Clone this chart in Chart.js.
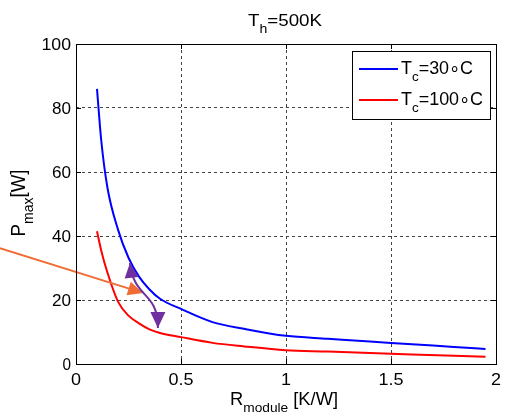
<!DOCTYPE html>
<html>
<head>
<meta charset="utf-8">
<script src="https://cdn.jsdelivr.net/npm/chart.js@4/dist/chart.umd.min.js"></script>
<style>
html, body { margin: 0; padding: 0; background: #fff; }
canvas { display: block; }
</style>
</head>
<body>
<canvas id="pChart" width="510" height="417"></canvas>
<script>
/* R_module [K/W] and Pmax [W] for the two cold side temperatures */
const rModule = [0.1, 0.12, 0.15, 0.2, 0.25, 0.3, 0.35, 0.4, 0.5, 0.65, 0.8, 1.0, 1.2, 1.4, 1.6, 1.8, 1.95];
const pTc30  = [86, 70, 55, 42, 33.2, 27.3, 23.3, 20.4, 17.2, 13.1, 11, 8.8, 7.9, 7.0, 6.2, 5.3, 4.7];
const pTc100 = [41.5, 35.5, 28.5, 19.5, 15.1, 12.7, 10.8, 9.7, 8.4, 6.6, 5.5, 4.3, 3.9, 3.4, 3.0, 2.6, 2.3];
const xTicks = [0, 0.5, 1, 1.5, 2];
const yTicks = [0, 20, 40, 60, 80, 100];

/* annotation arrows, in data units [R, P] */
const orangeArrow = [[-0.362, 36.2], [0.319, 22.2]];
const purpleArrow = [[0.257, 31.6], [0.276, 20.0], [0.39, 23.1], [0.39, 11.25]];

const FONT = '"Liberation Sans", Arial, sans-serif';

// text with subscripts, parts = [[text, isSub], ...]; width = target width (horizontal stretch)
function richWidth(ctx, parts, size) {
  let w = 0;
  parts.forEach(p => {
    ctx.font = (p[1] ? size * 0.75 : size) + 'px ' + FONT;
    w += ctx.measureText(p[0]).width;
  });
  return w;
}
function drawRich(ctx, parts, size, align, width) {
  const nat = richWidth(ctx, parts, size);
  const sx = width ? width / nat : 1;
  ctx.save();
  ctx.scale(sx, 1);
  let cx = align === 'center' ? -nat / 2 : align === 'right' ? -nat : 0;
  ctx.textAlign = 'left';
  ctx.textBaseline = 'alphabetic';
  ctx.fillStyle = '#000';
  parts.forEach(p => {
    ctx.font = (p[1] ? size * 0.75 : size) + 'px ' + FONT;
    ctx.fillText(p[0], cx, p[1] ? size * 0.4 : 0);
    cx += ctx.measureText(p[0]).width;
  });
  ctx.restore();
}

function arrowHead(ctx, tip, from, len, half) {
  const dx = tip.x - from.x, dy = tip.y - from.y;
  const d = Math.hypot(dx, dy), ux = dx / d, uy = dy / d;
  const bx = tip.x - ux * len, by = tip.y - uy * len;
  ctx.beginPath();
  ctx.moveTo(tip.x, tip.y);
  ctx.lineTo(bx - uy * half, by + ux * half);
  ctx.lineTo(bx + uy * half, by - ux * half);
  ctx.closePath();
  ctx.fill();
}

const decorations = {
  id: 'decorations',
  afterDatasetsDraw(chart) {
    const ctx = chart.ctx, xs = chart.scales.x, ys = chart.scales.y;
    const pt = p => ({ x: xs.getPixelForValue(p[0]), y: ys.getPixelForValue(p[1]) });

    // orange arrow
    const o0 = pt(orangeArrow[0]), o1 = pt(orangeArrow[1]);
    const od = Math.hypot(o1.x - o0.x, o1.y - o0.y);
    ctx.save();
    ctx.strokeStyle = ctx.fillStyle = '#ef6c35';
    ctx.lineWidth = 2;
    ctx.beginPath();
    ctx.moveTo(o0.x, o0.y);
    ctx.lineTo(o1.x - (o1.x - o0.x) * 12 / od, o1.y - (o1.y - o0.y) * 12 / od);
    ctx.stroke();
    arrowHead(ctx, o1, o0, 15, 7);

    // purple curved double arrow
    const q = purpleArrow.map(pt);
    ctx.strokeStyle = ctx.fillStyle = '#7030a0';
    ctx.beginPath();
    ctx.moveTo(q[0].x, q[0].y);
    ctx.bezierCurveTo(q[1].x, q[1].y, q[2].x, q[2].y, q[3].x, q[3].y);
    ctx.stroke();
    arrowHead(ctx, q[0], q[1], 15, 7);
    arrowHead(ctx, q[3], q[2], 16, 7.5);
    ctx.restore();
  },
  afterDraw(chart) {
    const ctx = chart.ctx, a = chart.chartArea, xs = chart.scales.x, ys = chart.scales.y;
    ctx.save();
    // frame and inward ticks
    ctx.strokeStyle = '#000';
    ctx.lineWidth = 1;
    ctx.strokeRect(Math.round(a.left) + 0.5, Math.round(a.top) + 0.5,
                   Math.round(a.right - a.left), Math.round(a.bottom - a.top));
    ctx.beginPath();
    xTicks.forEach(v => {
      const x = Math.round(xs.getPixelForValue(v)) + 0.5;
      ctx.moveTo(x, a.top); ctx.lineTo(x, a.top + 5);
      ctx.moveTo(x, a.bottom); ctx.lineTo(x, a.bottom - 5);
    });
    yTicks.forEach(v => {
      const y = Math.round(ys.getPixelForValue(v)) + 0.5;
      ctx.moveTo(a.left, y); ctx.lineTo(a.left + 5, y);
      ctx.moveTo(a.right, y); ctx.lineTo(a.right - 5, y);
    });
    ctx.stroke();

    // tick labels
    yTicks.forEach(v => {
      ctx.save();
      ctx.translate(a.left - 5, ys.getPixelForValue(v) + 6);
      drawRich(ctx, [[String(v), false]], 16, 'right', String(v).length * 10.5 - 2);
      ctx.restore();
    });
    xTicks.forEach(v => {
      ctx.save();
      ctx.translate(xs.getPixelForValue(v), a.bottom + 21);
      const s = String(v);
      drawRich(ctx, [[s, false]], 16, 'center', s.length === 1 ? 10 : 25);
      ctx.restore();
    });

    // title
    ctx.save();
    ctx.translate(285, 26);
    drawRich(ctx, [['T', false], ['h', true], ['=500K', false]], 17, 'center', 74);
    ctx.restore();

    // x axis title
    ctx.save();
    ctx.translate(284, 405);
    drawRich(ctx, [['R', false], ['module', true], [' [K/W]', false]], 18, 'center', 108);
    ctx.restore();

    // y axis title (rotated)
    ctx.save();
    ctx.translate(25, 203);
    ctx.scale(1.15, 1);
    ctx.rotate(-Math.PI / 2);
    drawRich(ctx, [['P', false], ['max', true], ['[W]', false]], 18, 'center', 67);
    ctx.restore();

    // legend
    const lx = 352, ly = 51, lw = 138, lh = 68;
    ctx.fillStyle = '#fff';
    ctx.fillRect(lx, ly, lw, lh);
    ctx.strokeStyle = '#000';
    ctx.strokeRect(lx + 0.5, ly + 0.5, lw, lh);
    const rows = [
      { color: '#0000ff', y: 69, parts: [['T', false], ['c', true], ['=30\u2218C', false]], w: 72 },
      { color: '#ff0000', y: 100, parts: [['T', false], ['c', true], ['=100\u2218C', false]], w: 82 }
    ];
    rows.forEach(r => {
      ctx.strokeStyle = r.color;
      ctx.lineWidth = 2;
      ctx.beginPath(); ctx.moveTo(359, r.y); ctx.lineTo(398, r.y); ctx.stroke();
      ctx.save();
      ctx.translate(401, r.y + 4.5);
      drawRich(ctx, r.parts, 18, 'left', r.w);
      ctx.restore();
    });
    ctx.restore();
  }
};

new Chart(document.getElementById('pChart'), {
  type: 'line',
  data: {
    datasets: [{
      label: 'Tc=30°C',
      data: rModule.map((r, i) => ({ x: r, y: pTc30[i] })),
      borderColor: '#0000ff',
      borderWidth: 2,
      pointRadius: 0,
      cubicInterpolationMode: 'monotone'
    }, {
      label: 'Tc=100°C',
      data: rModule.map((r, i) => ({ x: r, y: pTc100[i] })),
      borderColor: '#ff0000',
      borderWidth: 2,
      pointRadius: 0,
      cubicInterpolationMode: 'monotone'
    }]
  },
  options: {
    responsive: false,
    animation: false,
    devicePixelRatio: 1,
    layout: { padding: { top: 44, right: 14, left: 0, bottom: 0 } },
    plugins: { legend: { display: false }, title: { display: false }, tooltip: { enabled: false } },
    scales: {
      x: {
        type: 'linear', min: 0, max: 2,
        afterBuildTicks: s => { s.ticks = xTicks.map(v => ({ value: v })); },
        afterFit: s => { s.height = 53; },
        ticks: { display: false },
        grid: { color: '#444', drawTicks: false },
        border: { display: false, dash: [3, 3] }
      },
      y: {
        min: 0, max: 100,
        afterBuildTicks: s => { s.ticks = yTicks.map(v => ({ value: v })); },
        afterFit: s => { s.width = 76; },
        ticks: { display: false },
        grid: { color: '#444', drawTicks: false },
        border: { display: false, dash: [3, 3] }
      }
    }
  },
  plugins: [decorations]
});
</script>
</body>
</html>
